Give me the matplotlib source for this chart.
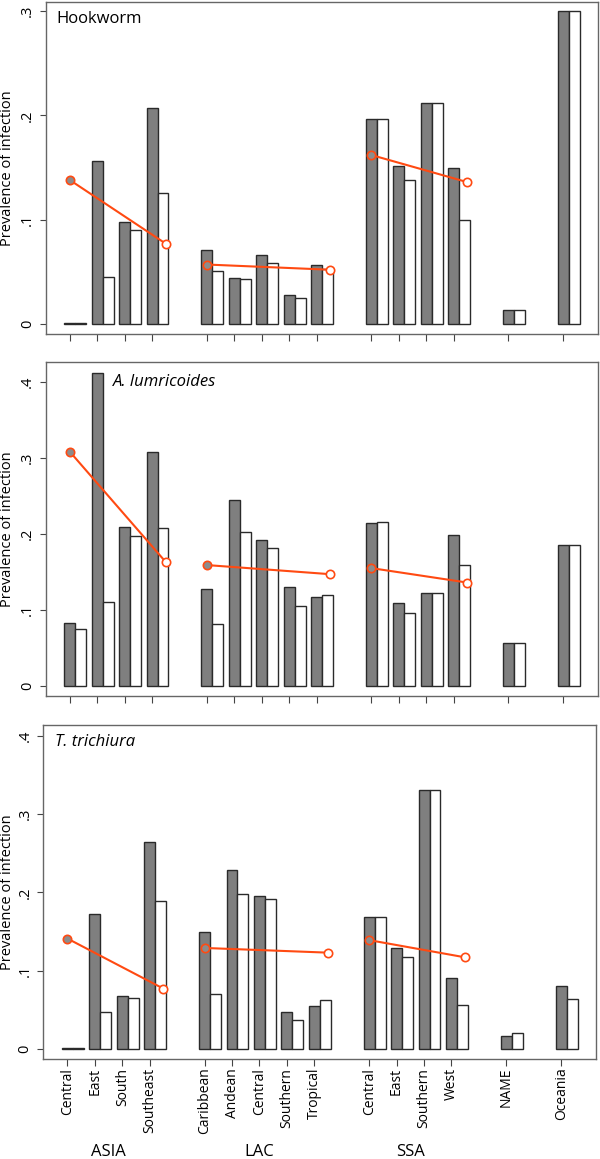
import matplotlib
matplotlib.use('Agg')
import matplotlib.pyplot as plt
from matplotlib.transforms import blended_transform_factory

plt.rcParams['font.family'] = ['Open Sans', 'DejaVu Sans']

########################################################################################################################
#Regions, grouped by continent.
group_names = ['ASIA', 'LAC', 'SSA', '', '']
group_regions = [['Central', 'East', 'South', 'Southeast'],
                 ['Caribbean', 'Andean', 'Central', 'Southern', 'Tropical'],
                 ['Central', 'East', 'Southern', 'West'],
                 ['NAME'],
                 ['Oceania']]

#Hookworm: dark bars, white bars, and the orange trend (start / end of each of the first three groups).
hook_dark = [0.001, 0.156, 0.098, 0.207, 0.071, 0.044, 0.066, 0.028, 0.057, 0.197, 0.151, 0.212, 0.150, 0.013, 0.300]
hook_light = [0.001, 0.045, 0.090, 0.126, 0.051, 0.043, 0.058, 0.025, 0.053, 0.197, 0.138, 0.212, 0.100, 0.013, 0.300]
hook_start = [0.138, 0.057, 0.162]
hook_end = [0.077, 0.052, 0.136]

#A. lumricoides
asc_dark = [0.083, 0.411, 0.209, 0.308, 0.127, 0.244, 0.192, 0.130, 0.117, 0.214, 0.109, 0.122, 0.198, 0.057, 0.185]
asc_light = [0.075, 0.111, 0.197, 0.208, 0.081, 0.203, 0.181, 0.105, 0.119, 0.215, 0.096, 0.122, 0.159, 0.057, 0.185]
asc_start = [0.308, 0.159, 0.155]
asc_end = [0.163, 0.147, 0.136]

#T. trichiura
tri_dark = [0.001, 0.172, 0.068, 0.264, 0.150, 0.228, 0.195, 0.047, 0.055, 0.168, 0.129, 0.331, 0.091, 0.017, 0.081]
tri_light = [0.001, 0.047, 0.065, 0.189, 0.070, 0.198, 0.191, 0.037, 0.063, 0.168, 0.118, 0.331, 0.056, 0.020, 0.064]
tri_start = [0.141, 0.129, 0.139]
tri_end = [0.077, 0.123, 0.117]

########################################################################################################################
#Slot positions: one empty slot between groups.
positions = []
labels = []
group_pos = []
p = 0
for regs in group_regions:
    first = p
    for r in regs:
        positions.append(p)
        labels.append(r)
        p += 1
    group_pos.append((first, p - 1))
    p += 1

ORANGE = '#ff4a12'
EDGE = '#2a2a2a'
W, H = 600, 1159

fig = plt.figure(figsize=(W / 100, H / 100), dpi=100)


def panel(rect_px, dark, light, start, end, ylim, yticks, title, title_xy, italic, show_labels):
    l, t, r, b = rect_px
    ax = fig.add_axes([l / W, 1 - b / H, (r - l) / W, (b - t) / H])
    ax.bar([x for x in positions], dark, width=0.4, color='#7f7f7f', edgecolor=EDGE, linewidth=1.0, zorder=2)
    ax.bar([x + 0.4 for x in positions], light, width=0.4, color='white', edgecolor=EDGE, linewidth=1.0, zorder=2)
    for i in range(len(start)):
        a, z = group_pos[i]
        ax.plot([a, z + 0.5], [start[i], end[i]], color=ORANGE, lw=1.5, zorder=3)
        ax.plot(a, start[i], 'o', ms=6, mfc='#8c8c8c', mec=ORANGE, mew=1.2, zorder=4)
        ax.plot(z + 0.5, end[i], 'o', ms=6, mfc='white', mec=ORANGE, mew=1.2, zorder=4)
    ax.set_xlim(-0.88, 19.27)
    ax.set_ylim(*ylim)
    ax.set_yticks(yticks)
    ax.set_yticklabels(['0'] + [('%.1f' % v)[1:] for v in yticks[1:]], rotation=90, va='center', fontsize=10.5)
    ax.set_xticks(positions)
    if show_labels:
        ax.set_xticklabels(labels, rotation=90, fontsize=10)
    else:
        ax.set_xticklabels([])
    ax.tick_params(axis='y', length=4.3, width=0.8, color='#444', pad=3.5)
    ax.tick_params(axis='x', length=4.8, width=0.8, color='#444', pad=1.5)
    for s in ax.spines.values():
        s.set_color('#666')
        s.set_linewidth(1.0)
    ax.set_ylabel('Prevalence of infection', fontsize=10.5)
    ax.yaxis.set_label_coords((15 - l) / (r - l), 0.5)
    ax.text(title_xy[0], title_xy[1], title, transform=ax.transAxes, fontsize=12, va='center', ha='left',
            style='italic' if italic else 'normal')
    return ax


panel((45.7, 1.7, 598, 334.3), hook_dark, hook_light, hook_start, hook_end, (-0.0099, 0.309),
      [0, 0.1, 0.2, 0.3], 'Hookworm', (0.0187, 0.948), False, False)
panel((45.7, 362.3, 598, 696), asc_dark, asc_light, asc_start, asc_end, (-0.0131, 0.4255),
      [0, 0.1, 0.2, 0.3, 0.4], 'A. lumricoides', (0.122, 0.942), True, False)
ax3 = panel((43.3, 725, 596, 1059), tri_dark, tri_light, tri_start, tri_end, (-0.0128, 0.4137),
            [0, 0.1, 0.2, 0.3, 0.4], 'T. trichiura', (0.0206, 0.95), True, True)

#Continent labels under the bottom panel.
trans = blended_transform_factory(ax3.transData, fig.transFigure)
for name, (a, z) in zip(group_names, group_pos):
    if name:
        ax3.text((a + z) / 2, 1 - 1151.7 / H, name, transform=trans, ha='center', va='center', fontsize=12)

fig.savefig('out.png', dpi=100)
